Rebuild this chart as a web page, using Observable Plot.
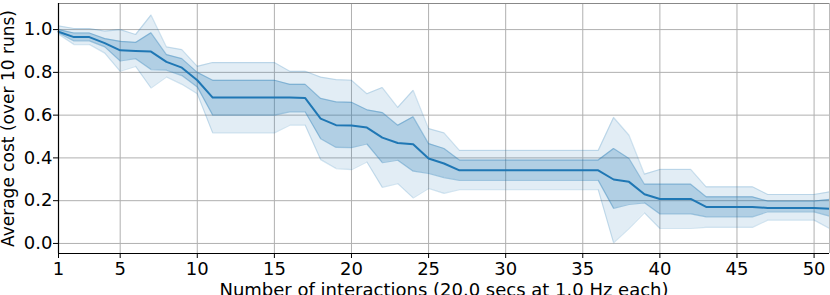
<!DOCTYPE html>
<html><head><meta charset="utf-8">
<script src="https://cdn.jsdelivr.net/npm/d3@7"></script>
<script src="https://cdn.jsdelivr.net/npm/@observablehq/plot@0.6"></script>
<style>body{margin:0;background:#fff;overflow:hidden}</style>
</head><body><div id="chart"></div>
<script>
const interactions = [1,2,3,4,5,6,7,8,9,10,11,12,13,14,15,16,17,18,19,20,21,22,23,24,25,26,27,28,29,30,31,32,33,34,35,36,37,38,39,40,41,42,43,44,45,46,47,48,49,50,51];
const meanCost = [0.99,0.965,0.965,0.937,0.903,0.90,0.897,0.849,0.822,0.763,0.682,0.682,0.682,0.682,0.682,0.682,0.68,0.584,0.553,0.551,0.542,0.495,0.47,0.464,0.397,0.374,0.342,0.342,0.342,0.342,0.342,0.342,0.342,0.342,0.342,0.342,0.299,0.288,0.23,0.208,0.208,0.208,0.171,0.171,0.171,0.171,0.166,0.166,0.166,0.166,0.162];
const innerHigh = [1.0,0.984,0.984,0.958,0.945,0.94,0.985,0.883,0.864,0.80,0.763,0.763,0.763,0.763,0.763,0.744,0.744,0.678,0.662,0.66,0.625,0.612,0.553,0.592,0.467,0.444,0.39,0.39,0.39,0.39,0.39,0.39,0.39,0.39,0.39,0.39,0.444,0.397,0.277,0.277,0.277,0.277,0.218,0.218,0.218,0.218,0.198,0.198,0.198,0.198,0.206];
const innerLow = [0.984,0.947,0.947,0.919,0.853,0.864,0.813,0.81,0.785,0.732,0.60,0.60,0.60,0.60,0.60,0.615,0.615,0.49,0.449,0.448,0.465,0.378,0.389,0.338,0.327,0.308,0.295,0.295,0.295,0.295,0.295,0.295,0.295,0.295,0.295,0.295,0.164,0.182,0.19,0.138,0.138,0.138,0.124,0.124,0.124,0.124,0.148,0.148,0.148,0.148,0.128];
const outerHigh = [1.017,1.005,1.005,0.993,1.0,0.977,1.068,0.919,0.906,0.828,0.846,0.846,0.846,0.846,0.846,0.805,0.805,0.778,0.766,0.763,0.70,0.729,0.636,0.716,0.537,0.517,0.435,0.435,0.435,0.435,0.435,0.435,0.435,0.435,0.435,0.435,0.589,0.506,0.324,0.346,0.346,0.346,0.265,0.265,0.265,0.265,0.229,0.229,0.229,0.229,0.241];
const outerLow = [0.978,0.93,0.93,0.89,0.805,0.828,0.727,0.778,0.744,0.70,0.517,0.517,0.517,0.517,0.517,0.553,0.553,0.392,0.35,0.345,0.381,0.262,0.28,0.213,0.257,0.234,0.252,0.252,0.252,0.252,0.252,0.252,0.252,0.252,0.252,0.252,0.003,0.07,0.143,0.07,0.07,0.07,0.075,0.075,0.075,0.075,0.109,0.109,0.109,0.109,0.07];
const xTicks = [1,5,10,15,20,25,30,35,40,45,50];
const yTicks = [0.0,0.2,0.4,0.6,0.8,1.0];
const xLabel = "Number of interactions (20.0 secs at 1.0 Hz each)";
const yLabel = "Average cost (over 10 runs)";

const data = interactions.map((x, i) => ({x, mean: meanCost[i], lo1: innerLow[i], hi1: innerHigh[i], lo2: outerLow[i], hi2: outerHigh[i]}));
const blue = "#1f77b4";
const yDom = [-0.047, 1.122];
const xDom = [1, 51];

const chart = Plot.plot({
  width: 830, height: 295,
  marginLeft: 58, marginRight: 1, marginTop: 3, marginBottom: 42,
  style: {fontFamily: "DejaVu Sans", fontSize: "18px", background: "#fff", color: "#000"},
  x: {domain: xDom},
  y: {domain: yDom},
  marks: [
    Plot.gridX(xTicks, {stroke: "#b0b0b0", strokeOpacity: 1, strokeWidth: 1}),
    Plot.gridY(yTicks, {stroke: "#b0b0b0", strokeOpacity: 1, strokeWidth: 1}),
    Plot.areaY(data, {x: "x", y1: "lo2", y2: "hi2", fill: blue, fillOpacity: 0.13}),
    Plot.line(data, {x: "x", y: "lo2", stroke: blue, strokeOpacity: 0.2, strokeWidth: 1.2}),
    Plot.line(data, {x: "x", y: "hi2", stroke: blue, strokeOpacity: 0.2, strokeWidth: 1.2}),
    Plot.areaY(data, {x: "x", y1: "lo1", y2: "hi1", fill: blue, fillOpacity: 0.25}),
    Plot.line(data, {x: "x", y: "lo1", stroke: blue, strokeOpacity: 0.35, strokeWidth: 1.2}),
    Plot.line(data, {x: "x", y: "hi1", stroke: blue, strokeOpacity: 0.35, strokeWidth: 1.2}),
    Plot.line(data, {x: "x", y: "mean", stroke: blue, strokeWidth: 2}),
    Plot.ruleY([yDom[1]], {stroke: "#888", strokeWidth: 1}),
    Plot.ruleX([xDom[1]], {stroke: "#bbb", strokeWidth: 1}),
    Plot.ruleX([xDom[0]], {stroke: "#000", strokeWidth: 1.2}),
    Plot.ruleY([yDom[0]], {stroke: "#000", strokeWidth: 1.2}),
    Plot.axisX({ticks: xTicks, tickSize: 5, tickPadding: 4, tickFormat: d => String(d), label: null, fontSize: 18}),
    Plot.axisY({ticks: yTicks, tickSize: 5, tickPadding: 1, tickFormat: d3.format(".1f"), label: null, fontSize: 18}),
    Plot.text([xLabel], {frameAnchor: "bottom", dy: 42, lineAnchor: "bottom", textAnchor: "middle", fontSize: 18, fill: "#000"}),
    Plot.text([yLabel], {frameAnchor: "left", dx: -44.5, rotate: -90, lineAnchor: "bottom", textAnchor: "middle", fontSize: 17, fill: "#000"})
  ]
});
document.getElementById("chart").appendChild(chart);
</script>
</body></html>
